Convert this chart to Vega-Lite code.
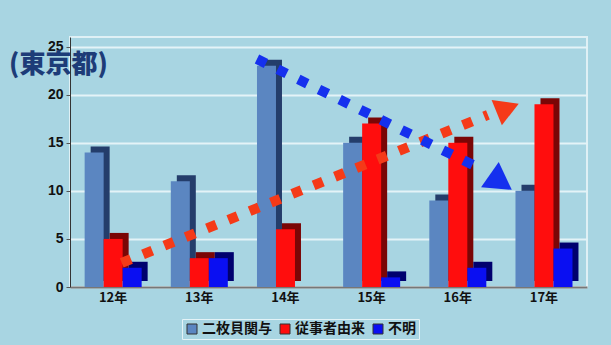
{
  "$schema": "https://vega.github.io/schema/vega-lite/v6.json",
  "width": 517,
  "height": 250,
  "autosize": "none",
  "padding": {"left": 70, "top": 37, "right": 24, "bottom": 58},
  "background": "#a8d5e2",
  "title": {
    "text": "(東京都)",
    "anchor": "start",
    "frame": "group",
    "orient": "top",
    "dx": -61,
    "dy": 45,
    "fontSize": 26,
    "fontWeight": 900,
    "color": "#1d3c78",
    "font": "Noto Sans CJK JP"
  },
  "config": {
    "font": "Noto Sans CJK JP",
    "view": {"stroke": "#dff0f5", "strokeWidth": 2, "fill": "#a8d5e2"}
  },
  "datasets": {
    "bars": [
      {"year": "12年", "series": "二枚貝関与", "count": 14},
      {"year": "12年", "series": "従事者由来", "count": 5},
      {"year": "12年", "series": "不明", "count": 2},
      {"year": "13年", "series": "二枚貝関与", "count": 11},
      {"year": "13年", "series": "従事者由来", "count": 3},
      {"year": "13年", "series": "不明", "count": 3},
      {"year": "14年", "series": "二枚貝関与", "count": 23},
      {"year": "14年", "series": "従事者由来", "count": 6},
      {"year": "14年", "series": "不明", "count": 0},
      {"year": "15年", "series": "二枚貝関与", "count": 15},
      {"year": "15年", "series": "従事者由来", "count": 17},
      {"year": "15年", "series": "不明", "count": 1},
      {"year": "16年", "series": "二枚貝関与", "count": 9},
      {"year": "16年", "series": "従事者由来", "count": 15},
      {"year": "16年", "series": "不明", "count": 2},
      {"year": "17年", "series": "二枚貝関与", "count": 10},
      {"year": "17年", "series": "従事者由来", "count": 19},
      {"year": "17年", "series": "不明", "count": 4}
    ],
    "arrows": [
      {"arrow": "red", "part": "line", "u": 0.6, "v": 2.5},
      {"arrow": "red", "part": "line", "u": 4.85, "v": 17.9},
      {"arrow": "red", "part": "head", "u": 5.08, "v": 18.6},
      {"arrow": "blue", "part": "line", "u": 2.17, "v": 23.7},
      {"arrow": "blue", "part": "line", "u": 4.7, "v": 12.6},
      {"arrow": "blue", "part": "head", "u": 5.0, "v": 10.9}
    ]
  },
  "layer": [
    {
      "data": {"name": "bars"},
      "encoding": {
        "x": {
          "field": "year", "type": "nominal", "sort": null,
          "scale": {"paddingInner": 0.34, "paddingOuter": 0.17},
          "axis": {
            "title": null, "labelAngle": 0, "labelFontSize": 13, "labelFontWeight": "bold",
            "labelColor": "#111", "ticks": false, "domainColor": "#777", "domainWidth": 2,
            "labelPadding": 4, "labelFont": "Noto Sans CJK JP"
          }
        },
        "y": {
          "field": "count", "type": "quantitative",
          "scale": {"domain": [0, 25]},
          "axis": {
            "title": null, "values": [0, 5, 10, 15, 20, 25], "labelFontSize": 14,
            "labelFontWeight": "bold", "labelColor": "#111", "labelFont": "Liberation Sans",
            "gridColor": "#e4f3f7", "gridWidth": 2, "domainColor": "#333", "tickColor": "#555",
            "tickSize": 4, "labelPadding": 3
          }
        }
      },
      "layer": [
        {
          "mark": {"type": "bar", "yOffset": -6, "y2Offset": -6},
          "encoding": {
            "xOffset": {"field": "series", "type": "nominal", "sort": ["二枚貝関与", "従事者由来", "不明"], "scale": {"range": [6, 63]}},
            "color": {
              "field": "series", "type": "nominal",
              "scale": {"domain": ["二枚貝関与", "従事者由来", "不明"], "range": ["#243d6b", "#7a0606", "#00006e"]},
              "legend": null
            }
          }
        },
        {
          "mark": {"type": "bar"},
          "encoding": {
            "xOffset": {"field": "series", "type": "nominal", "sort": ["二枚貝関与", "従事者由来", "不明"], "scale": {"range": [0, 57]}},
            "fill": {
              "field": "series", "type": "nominal",
              "scale": {"domain": ["二枚貝関与", "従事者由来", "不明"], "range": ["#5b86c1", "#ff0d0d", "#0a0ff2"]},
              "legend": {
                "title": null, "orient": "none", "legendX": 112, "legendY": 282, "direction": "horizontal", "symbolType": "square",
                "symbolSize": 100, "symbolStrokeColor": "#333", "symbolStrokeWidth": 1,
                "labelFontSize": 14, "labelFontWeight": "bold", "labelColor": "#111",
                "strokeColor": "#e4f3f7", "padding": 3, "columnPadding": 6, "labelOffset": 3
              }
            }
          }
        }
      ],
      "resolve": {"scale": {"color": "independent", "fill": "independent", "xOffset": "independent"}}
    },
    {
      "data": {"name": "arrows"},
      "encoding": {
        "x": {"field": "u", "type": "quantitative", "scale": {"domain": [0, 6]}, "axis": null},
        "y": {"field": "v", "type": "quantitative"}
      },
      "layer": [
        {
          "transform": [{"filter": "datum.arrow === 'red' && datum.part === 'line'"}],
          "mark": {"type": "line", "color": "#f53a18", "strokeWidth": 10, "strokeDash": [10, 13], "strokeCap": "butt"}
        },
        {
          "transform": [{"filter": "datum.arrow === 'blue' && datum.part === 'line'"}],
          "mark": {"type": "line", "color": "#1530ee", "strokeWidth": 10, "strokeDash": [10, 13], "strokeCap": "butt"}
        },
        {
          "transform": [{"filter": "datum.arrow === 'red' && datum.part === 'head'"}],
          "mark": {"type": "point", "shape": "triangle-right", "filled": true, "opacity": 1, "color": "#f53a18", "size": 750, "angle": 338}
        },
        {
          "transform": [{"filter": "datum.arrow === 'blue' && datum.part === 'head'"}],
          "mark": {"type": "point", "shape": "triangle-right", "filled": true, "opacity": 1, "color": "#1530ee", "size": 950, "angle": 35}
        }
      ]
    }
  ],
  "resolve": {"scale": {"x": "independent", "color": "independent", "fill": "independent"}}
}
